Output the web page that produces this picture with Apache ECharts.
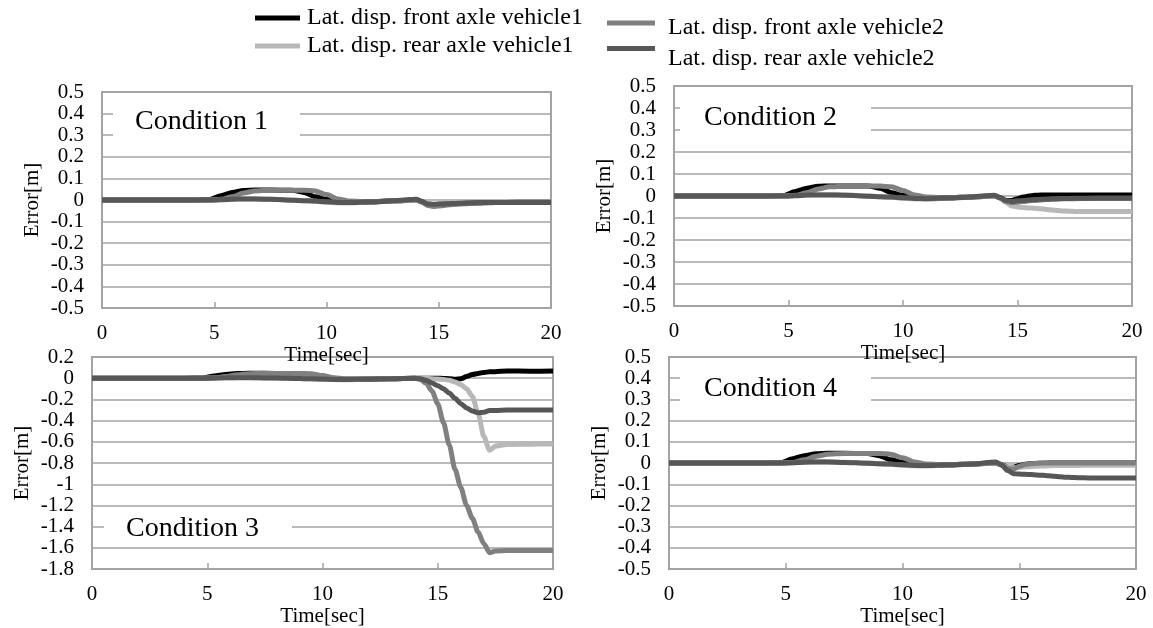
<!DOCTYPE html>
<html><head><meta charset="utf-8">
<script src="https://cdn.jsdelivr.net/npm/echarts@6/dist/echarts.min.js"></script>
<style>html,body{margin:0;padding:0;background:#fff}#c{width:1153px;height:628px}</style>
</head><body><div id="c"></div><script>
const seriesNames = ['Lat. disp. front axle vehicle1','Lat. disp. rear axle vehicle1','Lat. disp. front axle vehicle2','Lat. disp. rear axle vehicle2'];
const seriesColors = ['#000000','#b8b8b8','#808080','#575757'];
const panelTitles = ['Condition 1','Condition 2','Condition 3','Condition 4'];
const xTicks = [0,5,10,15,20];
const yRange1 = [-0.5,0.5,0.1];
const yRange3 = [-1.8,0.2,0.2];

const time = [0,1,2,3,4,4.8,5.3,5.8,6.3,6.8,7.5,8.5,9,9.5,10,10.5,11,12,13,14,
  14.25,14.5,14.75,15,15.25,15.5,15.75,16,16.25,16.5,16.75,17,17.25,17.5,18,19,20];

// Condition 1
const c1Front1 = [0,0,0,0,0,0.002,0.02,0.035,0.044,0.046,0.046,0.045,0.035,0.015,0.003,-0.006,-0.01,-0.008,-0.004,0,
  -0.008,-0.02,-0.022,-0.02,-0.019,-0.018,-0.017,-0.016,-0.015,-0.014,-0.013,-0.012,-0.012,-0.011,-0.011,-0.01,-0.01];
const c1Rear1 = [0,0,0,0,0,0,0.002,0.005,0.006,0.006,0.004,0,-0.003,-0.006,-0.01,-0.013,-0.014,-0.01,-0.005,0,
  -0.008,-0.018,-0.022,-0.021,-0.02,-0.019,-0.018,-0.016,-0.015,-0.014,-0.013,-0.012,-0.012,-0.011,-0.011,-0.01,-0.01];
const c1Front2 = [0,0,0,0,0,0,0.003,0.015,0.032,0.042,0.045,0.045,0.045,0.042,0.025,0.005,-0.005,-0.008,-0.004,0.002,
  -0.01,-0.025,-0.03,-0.028,-0.025,-0.022,-0.02,-0.018,-0.017,-0.016,-0.015,-0.014,-0.013,-0.012,-0.012,-0.011,-0.011];
const c1Rear2 = [0,0,0,0,0,0,0.001,0.004,0.005,0.005,0.003,-0.001,-0.003,-0.005,-0.008,-0.011,-0.012,-0.009,-0.004,0.003,
  -0.006,-0.018,-0.02,-0.019,-0.018,-0.017,-0.016,-0.015,-0.014,-0.013,-0.012,-0.012,-0.011,-0.011,-0.011,-0.011,-0.011];

// Condition 2
const c2Front1 = [0,0,0,0,0,0.002,0.02,0.035,0.044,0.046,0.046,0.045,0.035,0.015,0.003,-0.006,-0.01,-0.008,-0.004,0,
  -0.008,-0.02,-0.02,-0.012,-0.005,0,0.003,0.004,0.004,0.004,0.004,0.004,0.004,0.004,0.004,0.004,0.004];
const c2Rear1 = [0,0,0,0,0,0,0.002,0.005,0.006,0.006,0.004,0,-0.003,-0.006,-0.01,-0.013,-0.014,-0.01,-0.005,0,
  -0.01,-0.03,-0.045,-0.05,-0.052,-0.054,-0.056,-0.058,-0.061,-0.064,-0.066,-0.068,-0.069,-0.07,-0.07,-0.07,-0.07];
const c2Front2 = [0,0,0,0,0,0,0.003,0.015,0.032,0.042,0.045,0.045,0.045,0.042,0.025,0.005,-0.005,-0.008,-0.004,0.002,
  -0.01,-0.025,-0.03,-0.028,-0.025,-0.022,-0.02,-0.018,-0.016,-0.015,-0.014,-0.013,-0.012,-0.012,-0.011,-0.01,-0.01];
const c2Rear2 = [0,0,0,0,0,0,0.001,0.004,0.005,0.005,0.003,-0.001,-0.003,-0.005,-0.008,-0.011,-0.012,-0.009,-0.004,0.003,
  -0.008,-0.02,-0.025,-0.022,-0.02,-0.018,-0.016,-0.015,-0.014,-0.013,-0.012,-0.011,-0.011,-0.01,-0.01,-0.01,-0.01];

// Condition 3
const c3Front1 = [0,0,0,0,0,0.002,0.02,0.035,0.044,0.046,0.046,0.045,0.035,0.015,0.003,-0.006,-0.01,-0.008,-0.004,0,
  0,0,0,0,-0.002,-0.005,-0.01,-0.005,0.015,0.035,0.045,0.055,0.06,0.062,0.068,0.066,0.068];
const c3Rear1 = [0,0,0,0,0,0,0.002,0.005,0.006,0.006,0.004,0,-0.003,-0.006,-0.01,-0.013,-0.014,-0.01,-0.005,0,
  0,-0.002,-0.005,-0.008,-0.012,-0.02,-0.035,-0.06,-0.1,-0.17,-0.33,-0.55,-0.68,-0.64,-0.625,-0.622,-0.62];
const c3Front2 = [0,0,0,0,0,0,0.003,0.015,0.032,0.042,0.045,0.045,0.045,0.042,0.025,0.005,-0.005,-0.008,-0.004,0,
  -0.01,-0.05,-0.12,-0.24,-0.42,-0.63,-0.86,-1.03,-1.2,-1.32,-1.45,-1.56,-1.645,-1.63,-1.625,-1.625,-1.625];
const c3Rear2 = [0,0,0,0,0,0,0.001,0.004,0.005,0.005,0.003,-0.001,-0.003,-0.005,-0.008,-0.011,-0.012,-0.009,-0.004,0,
  -0.005,-0.02,-0.045,-0.07,-0.1,-0.14,-0.19,-0.24,-0.28,-0.31,-0.325,-0.32,-0.305,-0.305,-0.3,-0.3,-0.3];

// Condition 4
const c4Front1 = [0,0,0,0,0,0.002,0.02,0.035,0.044,0.046,0.046,0.045,0.035,0.015,0.003,-0.006,-0.01,-0.008,-0.004,0,
  -0.008,-0.02,-0.02,-0.012,-0.006,-0.003,-0.002,-0.001,0,0,0,0,0,0,0,0,0];
const c4Rear1 = [0,0,0,0,0,0,0.002,0.005,0.006,0.006,0.004,0,-0.003,-0.006,-0.01,-0.013,-0.014,-0.01,-0.005,0,
  -0.01,-0.02,-0.022,-0.02,-0.018,-0.016,-0.015,-0.014,-0.013,-0.012,-0.012,-0.011,-0.011,-0.011,-0.01,-0.01,-0.01];
const c4Front2 = [0,0,0,0,0,0,0.003,0.015,0.032,0.042,0.045,0.045,0.045,0.042,0.025,0.005,-0.005,-0.008,-0.004,0.002,
  -0.01,-0.025,-0.03,-0.015,-0.007,-0.003,-0.001,0,0,0,0,0,0,0,0,0,0];
const c4Rear2 = [0,0,0,0,0,0,0.001,0.004,0.005,0.005,0.003,-0.001,-0.003,-0.005,-0.008,-0.011,-0.012,-0.009,-0.004,0.005,
  -0.01,-0.035,-0.05,-0.052,-0.053,-0.054,-0.056,-0.058,-0.06,-0.062,-0.065,-0.067,-0.068,-0.069,-0.07,-0.07,-0.07];

const panels = [
  {vals:[c1Front1,c1Rear1,c1Front2,c1Rear2], y:yRange1},
  {vals:[c2Front1,c2Rear1,c2Front2,c2Rear2], y:yRange1},
  {vals:[c3Front1,c3Rear1,c3Front2,c3Rear2], y:yRange3},
  {vals:[c4Front1,c4Rear1,c4Front2,c4Rear2], y:yRange1}
];

const FONT = '"Liberation Serif","Times New Roman",serif';
const GRAY = '#a3a3a3';
const grids = [
  {left:102, top:92, width:449, height:216, xGap:26},
  {left:674, top:86, width:458, height:220, xGap:26},
  {left:92, top:357, width:461, height:213, xGap:31},
  {left:669, top:357, width:467, height:215, xGap:31}
];

const legendSpecs = [
  {name:seriesNames[0], left:255, top:6, w:45, pad:[0,0,0,2]},
  {name:seriesNames[1], left:255, top:34, w:45, pad:[0,0,0,2]},
  {name:seriesNames[2], left:607, top:16, w:48, pad:[10,0,0,8]},
  {name:seriesNames[3], left:607, top:46, w:48, pad:[20,0,0,8]}
];

const option = {
  animation:false,
  backgroundColor:'#fff',
  grid: grids.map(g => ({show:true, borderColor:GRAY, borderWidth:2, backgroundColor:'transparent',
    left:g.left, top:g.top, width:g.width, height:g.height})),
  xAxis: grids.map((g,i) => ({
    type:'value', gridIndex:i, min:xTicks[0], max:xTicks[xTicks.length-1], interval:xTicks[1]-xTicks[0],
    name:'Time[sec]', nameLocation:'middle', nameGap:g.xGap,
    nameTextStyle:{fontFamily:FONT, fontSize:21, color:'#000'},
    axisLine:{show:false, onZero:false}, splitLine:{show:false},
    axisTick:{show:true, inside:true, length:6, lineStyle:{color:GRAY, width:1.5}},
    axisLabel:{fontFamily:FONT, fontSize:21, color:'#000', margin:15}
  })),
  yAxis: grids.map((g,i) => ({
    type:'value', gridIndex:i, min:panels[i].y[0], max:panels[i].y[1], interval:panels[i].y[2],
    name:'Error[m]', nameLocation:'middle', nameGap:59,
    nameTextStyle:{fontFamily:FONT, fontSize:21, color:'#000'},
    axisLine:{show:false, onZero:false}, axisTick:{show:false},
    splitLine:{show:true, lineStyle:{color:GRAY, width:1.5}},
    axisLabel:{fontFamily:FONT, fontSize:21, color:'#000', margin:18}
  })),
  legend: legendSpecs.map(l => ({
    data:[l.name], left:l.left, top:l.top, padding:0, icon:'rect',
    itemWidth:l.w, itemHeight:5, selectedMode:false,
    formatter:'{a|{name}}',
    textStyle:{fontFamily:FONT, fontSize:24, color:'#000',
      rich:{a:{fontFamily:FONT, fontSize:24, color:'#000', padding:l.pad}}}
  })),
  series: [],
  graphic: []
};

panels.forEach((p,gi) => {
  p.vals.forEach((arr,si) => {
    option.series.push({
      type:'line', name:seriesNames[si], xAxisIndex:gi, yAxisIndex:gi,
      data: time.map((t,k) => [t, arr[k]]),
      showSymbol:false, symbol:'none', smooth:0.25, smoothMonotone:'x',
      color:seriesColors[si],
      lineStyle:{color:seriesColors[si], width:5},
      z:2+si
    });
  });
});

const boxes = [
  {x:113, y:100, w:187, h:47, tx:135, ty:122},
  {x:680, y:96, w:191, h:46, tx:704, ty:118},
  {x:104, y:511, w:188, h:34, tx:126, ty:529},
  {x:680, y:367, w:191, h:45, tx:704, ty:389}
];
boxes.forEach((b,i) => {
  option.graphic.push({type:'rect', z:10, shape:{x:b.x, y:b.y, width:b.w, height:b.h}, style:{fill:'#fff'}});
  option.graphic.push({type:'text', z:11, x:b.tx, y:b.ty,
    style:{text:panelTitles[i], font:'28px "Liberation Serif", serif', fill:'#000',
      verticalAlign:'middle', textVerticalAlign:'middle', align:'left'}});
});

const chart = echarts.init(document.getElementById('c'), null, {renderer:'canvas'});
chart.setOption(option);
</script></body></html>
